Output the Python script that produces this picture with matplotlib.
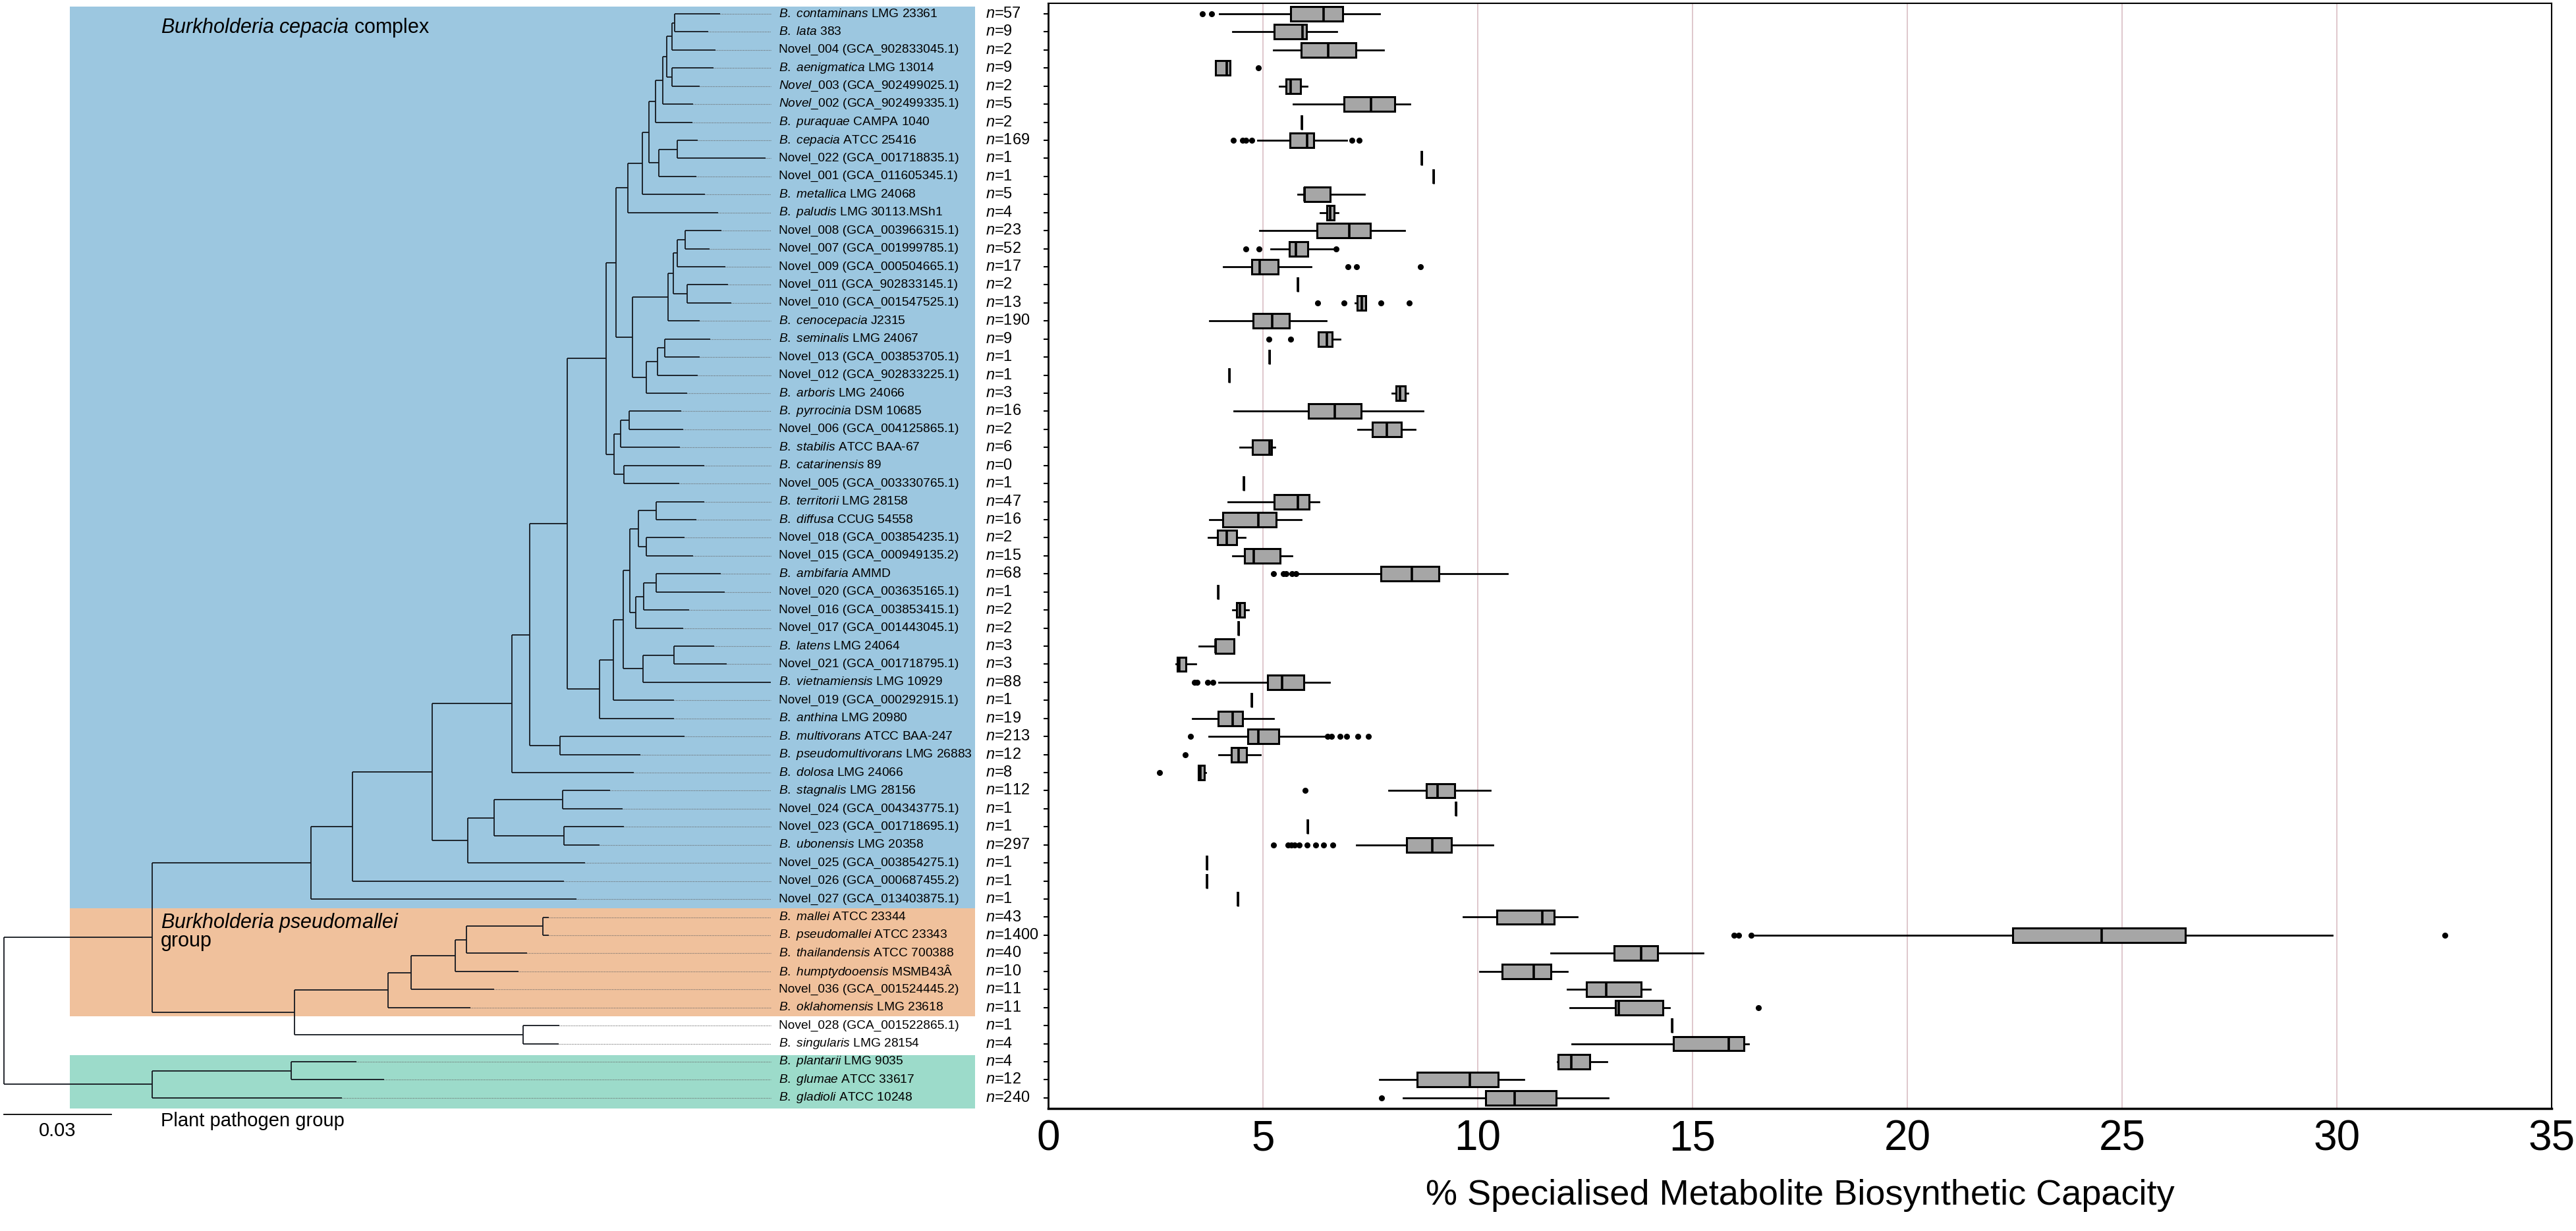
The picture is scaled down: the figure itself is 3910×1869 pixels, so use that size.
import numpy as np
import matplotlib
matplotlib.use("Agg")
import matplotlib.pyplot as plt
from matplotlib.patches import Rectangle

plt.rcParams['font.family'] = ['Liberation Sans', 'DejaVu Sans']
plt.rcParams['mathtext.fontset'] = 'custom'
plt.rcParams['mathtext.rm'] = 'Liberation Sans'
plt.rcParams['mathtext.it'] = 'Liberation Sans:italic'
plt.rcParams['mathtext.bf'] = 'Liberation Sans:bold'

nan = np.nan

# ---------------- data ----------------
SPECIES_IT = ["B. contaminans", "B. lata", "", "B. aenigmatica", "Novel_003", "Novel_002",
              "B. puraquae", "B. cepacia", "", "", "B. metallica", "B. paludis",
              "", "", "", "", "", "B. cenocepacia", "B. seminalis", "", "", "B. arboris",
              "B. pyrrocinia", "", "B. stabilis", "B. catarinensis", "", "B. territorii",
              "B. diffusa", "", "", "B. ambifaria", "", "", "", "B. latens", "",
              "B. vietnamiensis", "", "B. anthina", "B. multivorans", "B. pseudomultivorans",
              "B. dolosa", "B. stagnalis", "", "", "B. ubonensis", "", "", "",
              "B. mallei", "B. pseudomallei", "B. thailandensis", "B. humptydooensis", "",
              "B. oklahomensis", "", "B. singularis", "B. plantarii", "B. glumae", "B. gladioli"]
SPECIES_RM = ["LMG 23361", "383", "Novel_004 (GCA_902833045.1)", "LMG 13014",
              "(GCA_902499025.1)", "(GCA_902499335.1)", "CAMPA 1040", "ATCC 25416",
              "Novel_022 (GCA_001718835.1)", "Novel_001 (GCA_011605345.1)", "LMG 24068",
              "LMG 30113.MSh1", "Novel_008 (GCA_003966315.1)", "Novel_007 (GCA_001999785.1)",
              "Novel_009 (GCA_000504665.1)", "Novel_011 (GCA_902833145.1)",
              "Novel_010 (GCA_001547525.1)", "J2315", "LMG 24067", "Novel_013 (GCA_003853705.1)",
              "Novel_012 (GCA_902833225.1)", "LMG 24066", "DSM 10685",
              "Novel_006 (GCA_004125865.1)", "ATCC BAA-67", "89", "Novel_005 (GCA_003330765.1)",
              "LMG 28158", "CCUG 54558", "Novel_018 (GCA_003854235.1)",
              "Novel_015 (GCA_000949135.2)", "AMMD", "Novel_020 (GCA_003635165.1)",
              "Novel_016 (GCA_003853415.1)", "Novel_017 (GCA_001443045.1)", "LMG 24064",
              "Novel_021 (GCA_001718795.1)", "LMG 10929", "Novel_019 (GCA_000292915.1)",
              "LMG 20980", "ATCC BAA-247", "LMG 26883", "LMG 24066", "LMG 28156",
              "Novel_024 (GCA_004343775.1)", "Novel_023 (GCA_001718695.1)", "LMG 20358",
              "Novel_025 (GCA_003854275.1)", "Novel_026 (GCA_000687455.2)",
              "Novel_027 (GCA_013403875.1)", "ATCC 23344", "ATCC 23343", "ATCC 700388",
              "MSMB43Â", "Novel_036 (GCA_001524445.2)", "LMG 23618",
              "Novel_028 (GCA_001522865.1)", "LMG 28154", "LMG 9035", "ATCC 33617", "ATCC 10248"]
N_GENOMES = [57, 9, 2, 9, 2, 5, 2, 169, 1, 1, 5, 4, 23, 52, 17, 2, 13, 190, 9, 1,
             1, 3, 16, 2, 6, 0, 1, 47, 16, 2, 15, 68, 1, 2, 2, 3, 3, 88, 1, 19,
             213, 12, 8, 112, 1, 1, 297, 1, 1, 1, 43, 1400, 40, 10, 11, 11, 1, 4, 4, 12, 240]

WHIS_LO = [3.99, 4.30, 5.25, 3.89, 5.39, 5.71, 5.90, 4.87, 8.70, 8.97,
           5.81, 6.34, 4.93, 5.18, 4.08, 5.82, 7.15, 3.75, 6.29, 5.16,
           4.22, 8.01, 4.33, 7.21, 4.47, nan, 4.55, 4.18, 3.76, 3.73,
           4.30, 5.81, 3.95, 4.29, 4.43, 3.51, 2.98, 3.98, 4.74, 3.36,
           3.74, 3.98, 3.49, 7.93, 9.50, 6.05, 7.18, 3.70, 3.70, 4.41,
           9.67, 16.45, 11.70, 10.05, 12.08, 12.14, 14.52, 12.20, 11.85, 7.71, 8.26]
Q1 = [5.65, 5.26, 5.89, 3.89, 5.53, 6.89, 5.90, 5.63, 8.70, 8.97,
      5.97, 6.49, 6.26, 5.62, 4.74, 5.82, 7.20, 4.77, 6.29, 5.16,
      4.22, 8.10, 6.06, 7.54, 4.75, nan, 4.55, 5.26, 4.06, 3.94,
      4.57, 7.75, 3.95, 4.38, 4.43, 3.90, 3.00, 5.11, 4.74, 3.95,
      4.64, 4.27, 3.49, 8.80, 9.50, 6.05, 8.35, 3.70, 3.70, 4.41,
      10.45, 22.45, 13.18, 10.56, 12.53, 13.21, 14.52, 14.55, 11.87, 8.59, 10.19]
MED = [6.41, 5.92, 6.52, 4.16, 5.65, 7.51, 5.90, 6.03, 8.70, 8.97,
       5.97, 6.57, 7.01, 5.76, 4.93, 5.82, 7.30, 5.21, 6.49, 5.16,
       4.22, 8.19, 6.67, 7.88, 5.15, nan, 4.55, 5.82, 4.90, 4.16,
       4.78, 8.46, 3.95, 4.47, 4.43, 3.90, 3.05, 5.44, 4.74, 4.29,
       4.90, 4.43, 3.55, 9.07, 9.50, 6.05, 8.94, 3.70, 3.70, 4.41,
       11.50, 24.53, 13.80, 11.31, 12.99, 13.28, 14.52, 15.85, 12.18, 9.82, 10.86]
Q3 = [6.86, 6.01, 7.17, 4.24, 5.88, 8.06, 5.90, 6.18, 8.70, 8.97,
      6.57, 6.65, 7.50, 6.05, 5.35, 5.82, 7.40, 5.61, 6.61, 5.16,
      4.22, 8.31, 7.28, 8.22, 5.20, nan, 4.55, 6.08, 5.31, 4.38,
      5.40, 9.09, 3.95, 4.57, 4.43, 4.33, 3.20, 5.95, 4.74, 4.53,
      5.37, 4.61, 3.63, 9.46, 9.50, 6.05, 9.38, 3.70, 3.70, 4.41,
      11.78, 26.48, 14.19, 11.70, 13.81, 14.31, 14.52, 16.19, 12.61, 10.48, 11.82]
WHIS_HI = [7.72, 6.72, 7.81, 4.24, 6.02, 8.42, 5.90, 6.95, 8.70, 8.97,
           7.36, 6.75, 8.29, 6.63, 6.12, 5.82, 7.40, 6.48, 6.80, 5.16,
           4.22, 8.37, 8.73, 8.55, 5.27, nan, 4.55, 6.31, 5.89, 4.59,
           5.68, 10.69, 3.95, 4.66, 4.43, 4.33, 3.44, 6.55, 4.74, 5.25,
           6.48, 4.94, 3.66, 10.29, 9.50, 6.05, 10.36, 3.70, 3.70, 4.41,
           12.31, 29.90, 15.25, 12.08, 14.02, 14.46, 14.52, 16.30, 13.00, 11.08, 13.04]
FLIERS = {
    1: [3.59, 3.81],
    4: [4.90],
    8: [4.31, 4.53, 4.60, 4.74, 7.07, 7.24],
    14: [4.60, 4.91, 6.71],
    15: [6.98, 7.18, 8.66],
    17: [6.28, 6.88, 7.75, 8.41],
    19: [5.14, 5.65],
    32: [5.25, 5.48, 5.54, 5.68, 5.77],
    38: [3.40, 3.47, 3.71, 3.84],
    41: [3.31, 6.51, 6.59, 6.79, 6.95, 7.21, 7.45],
    42: [3.19],
    43: [2.59],
    44: [5.98],
    47: [5.25, 5.58, 5.66, 5.73, 5.84, 6.03, 6.22, 6.41, 6.62],
    52: [15.97, 16.07, 16.36, 32.52],
    56: [16.54],
    61: [7.76],
}
X_TICKS = [0, 5, 10, 15, 20, 25, 30, 35]
GRID_VALUES = [5, 10, 15, 20, 25, 30]
X_LABEL = "% Specialised Metabolite Biosynthetic Capacity"

# phylogeny (leaf names = row numbers, branch lengths in 0.001 substitutions/site)
T_1_7 = "(((((1:12.7,2:9.4):0.7,3:12.0):1.5,(4:11.6,5:7.7):1.5):1.1,6:8.5):2.0,7:10.3):1.9"
T_8_10 = "((8:5.7,9:24.5):5.3,10:10.5):2.7"
T_1_12 = "(((" + T_1_7 + "," + T_8_10 + "):1.9,11:17.5):4.0,12:25.2):3.3"
T_13_18 = "((((13:10.1,14:6.8):2.2,15:13.4):1.1,(16:11.4,17:12.3):3.9):1.5,18:8.8):9.9"
T_19_22 = "(((19:12.7,20:9.8):2.0,21:11.2):3.1,22:11.4):3.9"
T_1_22 = "(" + T_1_12 + ",(" + T_13_18 + "," + T_19_22 + "):4.6):2.8"
T_23_27 = "(((23:14.7,24:15.1):2.4,25:16.7):1.8,(26:22.5,27:15.5):2.8):2.2"
T_1_27 = "(" + T_1_22 + "," + T_23_27 + "):10.9"
T_28_35 = ("(((28:13.3,29:11.2):5.0,(30:10.7,31:13.1):2.2):2.4,"
           "(((32:17.9,33:19.0):3.5,34:12.7):2.3,35:13.3):1.6):1.8")
T_28_40 = "(((" + T_28_35 + ",((36:11.4,37:14.9):8.5,38:35.7):5.5):2.9,39:17.0):3.9,40:20.8):9.0"
T_1_42 = "((" + T_1_27 + "," + T_28_40 + "):10.5,(41:34.8,42:22.5):8.5):4.8"
T_44_48 = "(((44:13.3,45:16.9):19.0,(46:16.7,47:9.9):19.5):7.4,48:32.8):9.9"
T_BCC = "((((" + T_1_42 + ",43:34.0):22.3," + T_44_48 + "):22.3,49:59.1):11.6,50:74.2):44.4"
T_PM = "(((((51:1.7,52:1.7):21.3,53:16.9):3.3,54:17.7):12.3,55:23.2):6.4,56:23.0):26.1"
T_Q = "(" + T_PM + ",(57:10.1,58:9.8):63.9):39.8"
T_PLANT = "((59:18.2,60:26.0):38.8,61:53.0):41.4"
NEWICK = "((" + T_BCC + "," + T_Q + "):41.4," + T_PLANT + ");"
SCALE_BAR = 30.0  # = 0.03 substitutions

GROUPS = [  # (label parts, first row edge, last row edge, colour)
    ((r"$\mathit{Burkholderia\ cepacia}$ complex",), 0.6, 50.5, "#9CC7E0"),
    ((r"$\mathit{Burkholderia\ pseudomallei}$", "group"), 50.5, 56.5, "#F0C19C"),
    (("Plant pathogen group",), 58.65, 61.6, "#9CDBCA"),
]

# ---------------- geometry helpers ----------------
FIG_W, FIG_H = 3910, 1869
ROW0_PX, ROW_STEP_PX = 21.0, 27.43
ROOT_PX, PX_PER_UNIT = 6.0, 5.433
AX_L, AX_R, AX_T, AX_B = 1591, 3873, 5, 1683


def row_of(px):
    return 1 + (px - ROW0_PX) / ROW_STEP_PX


def d_of(px):
    return (px - ROOT_PX) / PX_PER_UNIT


def parse_newick(s):
    s = s.strip().rstrip(';')
    pos = [0]

    def node():
        nd = {'children': [], 'name': None, 'length': 0.0}
        if s[pos[0]] == '(':
            pos[0] += 1
            nd['children'].append(node())
            while s[pos[0]] == ',':
                pos[0] += 1
                nd['children'].append(node())
            pos[0] += 1  # ')'
        j = pos[0]
        while pos[0] < len(s) and s[pos[0]] not in ':,()':
            pos[0] += 1
        if pos[0] > j:
            nd['name'] = s[j:pos[0]]
        if pos[0] < len(s) and s[pos[0]] == ':':
            pos[0] += 1
            j = pos[0]
            while pos[0] < len(s) and s[pos[0]] not in ',()':
                pos[0] += 1
            nd['length'] = float(s[j:pos[0]])
        return nd
    return node()


def layout(nd, depth=0.0):
    nd['x'] = depth + nd['length']
    if nd['children']:
        for c in nd['children']:
            layout(c, nd['x'])
        nd['y'] = float(np.mean([c['y'] for c in nd['children']]))
    else:
        nd['y'] = float(nd['name'])


tree = parse_newick(NEWICK)
tree['length'] = 0.0
layout(tree)

fig = plt.figure(figsize=(FIG_W / 100, FIG_H / 100), dpi=100)

# ---------------- tree panel ----------------
axt = fig.add_axes([0, 0, AX_L / FIG_W, 1])
axt.set_xlim(d_of(0), d_of(AX_L))
axt.set_ylim(row_of(FIG_H), row_of(0))
axt.axis('off')

BG_X0, BG_X1 = d_of(106), d_of(1480)
for _, r0, r1, col in GROUPS:
    axt.add_patch(Rectangle((BG_X0, r0), BG_X1 - BG_X0, r1 - r0, facecolor=col,
                            edgecolor='none', zorder=0))

DOT_END = d_of(1170)
LABEL_X = d_of(1182)
N_X = d_of(1496)
TREE_COL = '#14181f'


def draw(nd, parent_x=None):
    if parent_x is not None:
        axt.plot([parent_x, nd['x']], [nd['y'], nd['y']], color=TREE_COL, lw=1.3,
                 solid_capstyle='butt', zorder=3)
    if nd['children']:
        ys = [c['y'] for c in nd['children']]
        axt.plot([nd['x'], nd['x']], [min(ys), max(ys)], color=TREE_COL, lw=1.3,
                 solid_capstyle='butt', zorder=3)
        for c in nd['children']:
            draw(c, nd['x'])
    elif nd['x'] < DOT_END:
        axt.plot([nd['x'], DOT_END], [nd['y'], nd['y']], color='#6a6a6a', lw=0.8,
                 linestyle=(0, (1, 1.2)), zorder=2)


draw(tree)


def label_text(it, rm):
    if it:
        it_m = it.replace('_', r'\_').replace(' ', r'\ ')
        return r"$\mathit{" + it_m + "}$ " + rm
    return rm


rows = np.arange(1, len(SPECIES_RM) + 1)
for r, it, rm, n in zip(rows, SPECIES_IT, SPECIES_RM, N_GENOMES):
    axt.text(LABEL_X, r, label_text(it, rm), fontsize=13.8, va='center', ha='left', zorder=4)
    axt.text(N_X, r, r"$\mathit{n}$=" + str(n), fontsize=17, va='center', ha='left', zorder=4)

# group labels
GX = d_of(244)
axt.text(GX, row_of(42), GROUPS[0][0][0], fontsize=22, va='center', ha='left', zorder=4)
axt.text(GX, row_of(1401), GROUPS[1][0][0], fontsize=22, va='center', ha='left', zorder=4)
axt.text(GX, row_of(1429), GROUPS[1][0][1], fontsize=22, va='center', ha='left', zorder=4)
axt.text(GX, row_of(1702), GROUPS[2][0][0], fontsize=21, va='center', ha='left', zorder=4)

# scale bar
sb_y = row_of(1692)
axt.plot([0, SCALE_BAR], [sb_y, sb_y], color='black', lw=1.3)
axt.text(SCALE_BAR / 2, row_of(1717), "0.03", fontsize=21, va='center', ha='center')

# ---------------- box plot panel ----------------
ax = fig.add_axes([AX_L / FIG_W, 1 - AX_B / FIG_H, (AX_R - AX_L) / FIG_W, (AX_B - AX_T) / FIG_H])
stats, pos = [], []
for i, r in enumerate(rows):
    if np.isnan(MED[i]):
        continue
    stats.append(dict(whislo=WHIS_LO[i], q1=Q1[i], med=MED[i], q3=Q3[i], whishi=WHIS_HI[i],
                      fliers=np.array(FLIERS.get(int(r), []))))
    pos.append(r)

kw = dict(positions=pos, widths=0.8, patch_artist=True, showcaps=False,
          boxprops=dict(facecolor='#a6a6a6', edgecolor='black', linewidth=2.2),
          medianprops=dict(color='black', linewidth=2.6),
          whiskerprops=dict(color='black', linewidth=2.0),
          flierprops=dict(marker='o', markerfacecolor='black', markeredgecolor='black',
                          markersize=5.5))
try:
    ax.bxp(stats, orientation='horizontal', **kw)
except TypeError:
    ax.bxp(stats, vert=False, **kw)

for g in GRID_VALUES:
    ax.axvline(g, color='#dcc3c8', lw=1.3, zorder=0)

ax.set_xlim(0, 35)
ax.set_ylim(row_of(AX_B), row_of(AX_T))
ax.set_yticks(rows)
ax.set_yticklabels([])
ax.tick_params(axis='y', length=4.8, width=1.5, direction='out')
ax.set_xticks(X_TICKS)
ax.set_xticklabels([str(t) for t in X_TICKS])
ax.tick_params(axis='x', length=0, labelsize=46, pad=12)
ax.set_xlabel(X_LABEL, fontsize=39, labelpad=22)
for side, lw in (('left', 2.0), ('bottom', 2.5), ('top', 1.5), ('right', 1.5)):
    ax.spines[side].set_linewidth(lw)
    ax.spines[side].set_color('black')

fig.savefig("out.png", dpi=100)
